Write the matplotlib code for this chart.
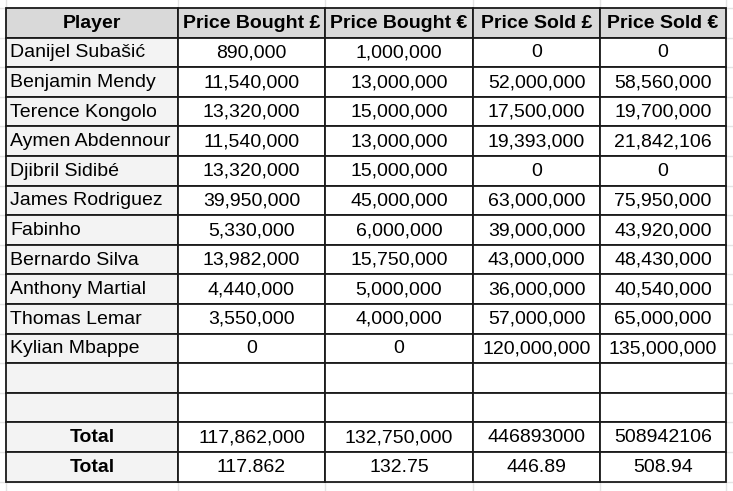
import matplotlib
matplotlib.use("Agg")
import matplotlib.pyplot as plt
from matplotlib.patches import Rectangle

plt.rcParams['font.family'] = ['Liberation Sans', 'DejaVu Sans']

headers = ["Player", "Price Bought £", "Price Bought €", "Price Sold £", "Price Sold €"]
players = ["Danijel Subašić", "Benjamin Mendy", "Terence Kongolo", "Aymen Abdennour",
           "Djibril Sidibé", "James Rodriguez", "Fabinho", "Bernardo Silva",
           "Anthony Martial", "Thomas Lemar", "Kylian Mbappe"]
bought_gbp = [890000, 11540000, 13320000, 11540000, 13320000, 39950000, 5330000,
              13982000, 4440000, 3550000, 0]
bought_eur = [1000000, 13000000, 15000000, 13000000, 15000000, 45000000, 6000000,
              15750000, 5000000, 4000000, 0]
sold_gbp = [0, 52000000, 17500000, 19393000, 0, 63000000, 39000000, 43000000,
            36000000, 57000000, 120000000]
sold_eur = [0, 58560000, 19700000, 21842106, 0, 75950000, 43920000, 48430000,
            40540000, 65000000, 135000000]
total_label = "Total"
totals_row1 = ["117,862,000", "132,750,000", "446893000", "508942106"]
totals_row2 = ["117.862", "132.75", "446.89", "508.94"]

W, H = 733, 491
fig = plt.figure(figsize=(W / 100, H / 100), dpi=100)
ax = fig.add_axes([0, 0, 1, 1])
ax.set_xlim(0, W)
ax.set_ylim(H, 0)
ax.axis('off')

col_edges = [6, 178, 325, 473, 600, 726]
top = 8
row_h = 29.6
n_rows = 1 + len(players) + 2 + 2
row_edges = [top + i * row_h for i in range(n_rows + 1)]

# background sheet gridlines
grid_c = '#e3e3e3'
for x in col_edges:
    ax.plot([x, x], [0, H], color=grid_c, lw=1, zorder=0)
ys = [row_edges[0] - row_h] + row_edges + [row_edges[-1] + row_h]
for yy in ys:
    ax.plot([0, W], [yy, yy], color=grid_c, lw=1, zorder=0)

# build rows
rows = [headers]
for i, p in enumerate(players):
    rows.append([p, f"{bought_gbp[i]:,}", f"{bought_eur[i]:,}", f"{sold_gbp[i]:,}", f"{sold_eur[i]:,}"])
rows.append(["", "", "", "", ""])
rows.append(["", "", "", "", ""])
rows.append([total_label] + totals_row1)
rows.append([total_label] + totals_row2)

fs = 14
for r, row in enumerate(rows):
    y0, y1 = row_edges[r], row_edges[r + 1]
    for c, txt in enumerate(row):
        x0, x1 = col_edges[c], col_edges[c + 1]
        if r == 0:
            fc = '#d9d9d9'
        elif c == 0:
            fc = '#f3f3f3'
        else:
            fc = 'white'
        ax.add_patch(Rectangle((x0, y0), x1 - x0, y1 - y0, facecolor=fc,
                               edgecolor='#1a1a1a', lw=1.3, zorder=2))
        if not txt:
            continue
        bold = (r == 0) or (txt == total_label and c == 0)
        if c == 0 and r > 0 and txt != total_label:
            ax.text(x0 + 4, (y0 + y1) / 2 + 0.5, txt, ha='left', va='center', fontsize=fs,
                    fontweight='bold' if bold else 'normal', color='black', zorder=3)
        else:
            ax.text((x0 + x1) / 2, (y0 + y1) / 2 + 0.5, txt, ha='center', va='center',
                    fontsize=fs, fontweight='bold' if bold else 'normal', color='black', zorder=3)

fig.savefig("out.png", dpi=100)
